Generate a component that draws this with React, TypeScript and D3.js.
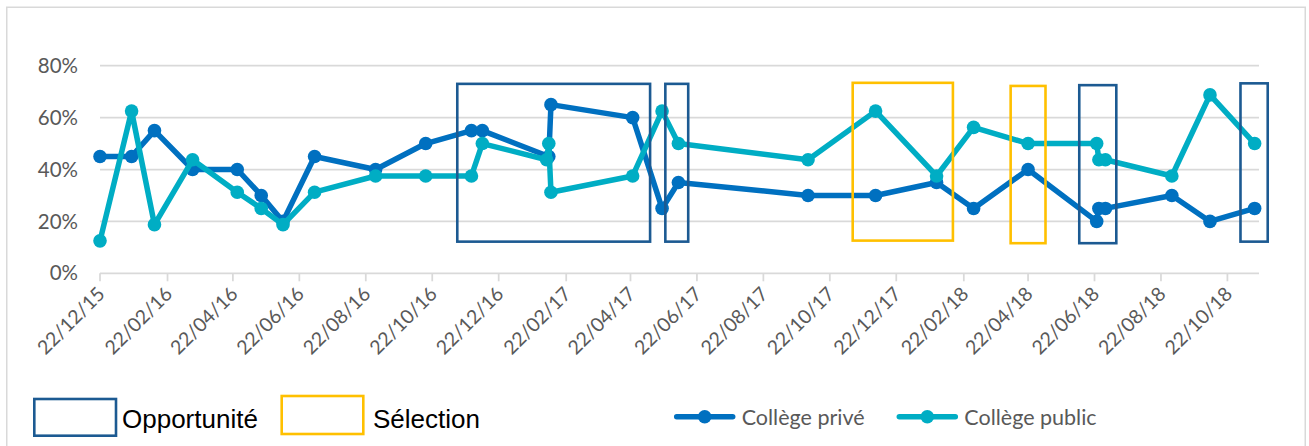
import React from "react";
import * as d3 from "d3";

// Survey dates and shares for each college type
const priveDates = [
  "2015-12-22", "2016-01-20", "2016-02-10", "2016-03-16", "2016-04-26", "2016-05-18",
  "2016-06-07", "2016-07-06", "2016-08-31", "2016-10-16", "2016-11-27", "2016-12-07",
  "2017-02-06", "2017-02-08", "2017-04-24", "2017-05-21", "2017-06-05", "2017-10-02",
  "2017-12-03", "2018-01-28", "2018-03-03", "2018-04-22", "2018-06-24", "2018-06-26",
  "2018-07-02", "2018-09-01", "2018-10-06", "2018-11-16",
];
const priveValues = [
  0.45, 0.45, 0.55, 0.4, 0.4, 0.3,
  0.2, 0.45, 0.4, 0.5, 0.55, 0.55,
  0.45, 0.65, 0.6, 0.25, 0.35, 0.3,
  0.3, 0.35, 0.25, 0.4, 0.2, 0.25,
  0.25, 0.3, 0.2, 0.25,
];

const publicDates = [
  "2015-12-22", "2016-01-20", "2016-02-10", "2016-03-16", "2016-04-26", "2016-05-18",
  "2016-06-07", "2016-07-06", "2016-08-31", "2016-10-16", "2016-11-27", "2016-12-07",
  "2017-02-04", "2017-02-06", "2017-02-08", "2017-04-24", "2017-05-21", "2017-06-05",
  "2017-10-02", "2017-12-03", "2018-01-28", "2018-03-03", "2018-04-22", "2018-06-24",
  "2018-06-26", "2018-07-02", "2018-09-01", "2018-10-06", "2018-11-16",
];
const publicValues = [
  0.125, 0.625, 0.1875, 0.4375, 0.3125, 0.25,
  0.1875, 0.3125, 0.375, 0.375, 0.375, 0.5,
  0.4375, 0.5, 0.3125, 0.375, 0.625, 0.5,
  0.4375, 0.625, 0.375, 0.5625, 0.5, 0.5,
  0.4375, 0.4375, 0.375, 0.6875, 0.5,
];

const tickLabels = [
  "22/12/15", "22/02/16", "22/04/16", "22/06/16", "22/08/16", "22/10/16",
  "22/12/16", "22/02/17", "22/04/17", "22/06/17", "22/08/17", "22/10/17",
  "22/12/17", "22/02/18", "22/04/18", "22/06/18", "22/08/18", "22/10/18",
];
const yTicks = [0, 0.2, 0.4, 0.6, 0.8];
const axisDomain = ["2015-12-22", "2018-11-20"];

// Highlight frames: date span and value span
const opportuniteFrames = [
  { start: "2016-11-14", end: "2017-05-10", top: 0.73, bottom: 0.122 },
  { start: "2017-05-24", end: "2017-06-14", top: 0.73, bottom: 0.122 },
  { start: "2018-06-08", end: "2018-07-12", top: 0.725, bottom: 0.116 },
  { start: "2018-11-03", end: "2018-11-28", top: 0.732, bottom: 0.122 },
];
const selectionFrames = [
  { start: "2017-11-12", end: "2018-02-12", top: 0.734, bottom: 0.126 },
  { start: "2018-04-06", end: "2018-05-08", top: 0.722, bottom: 0.116 },
];

const W = 1309;
const H = 446;
const PRIVE = "#0070c0";
const PUBLIC = "#00adc4";
const NAVY = "#1c5a92";
const GOLD = "#ffc000";
const GRID = "#d9d9d9";
const TEXT = "#595959";
const AXIS_FONT = "Lato, 'Open Sans', sans-serif";

const parseISO = d3.timeParse("%Y-%m-%d");
const parseTick = d3.timeParse("%d/%m/%y");

export default function App() {
  const x = d3
    .scaleTime()
    .domain(axisDomain.map((d) => parseISO(d) as Date))
    .range([100, 1259]);
  const y = d3.scaleLinear().domain([0, 0.8]).range([273.3, 65.7]);

  const prive = priveDates.map((d, i) => ({ date: parseISO(d) as Date, value: priveValues[i] }));
  const pub = publicDates.map((d, i) => ({ date: parseISO(d) as Date, value: publicValues[i] }));

  const line = d3
    .line<{ date: Date; value: number }>()
    .x((d) => x(d.date))
    .y((d) => y(d.value));

  const [x0, x1] = x.range();
  const baseY = y(0);

  const frame = (f: { start: string; end: string; top: number; bottom: number }, color: string, key: string) => {
    const xa = x(parseISO(f.start) as Date);
    const xb = x(parseISO(f.end) as Date);
    const ya = y(f.top);
    const yb = y(f.bottom);
    return (
      <rect key={key} x={xa} y={ya} width={xb - xa} height={yb - ya} fill="none" stroke={color} strokeWidth={2.6} />
    );
  };

  const series = (data: { date: Date; value: number }[], color: string) => (
    <g>
      <path d={line(data) || ""} fill="none" stroke={color} strokeWidth={5.5} strokeLinejoin="round" strokeLinecap="round" />
      {data.map((d, i) => (
        <circle key={i} cx={x(d.date)} cy={y(d.value)} r={6.8} fill={color} />
      ))}
    </g>
  );

  return (
    <svg
      width={W}
      height={H}
      style={{ position: "absolute", left: 0, top: 0, background: "#fff" }}
    >
      <rect x={0} y={0} width={W} height={H} fill="#fff" />
      {/* chart border */}
      <rect x={6.75} y={7.25} width={1298.5} height={460} fill="none" stroke={GRID} strokeWidth={1.5} />

      {/* gridlines */}
      {yTicks.map((t) => (
        <line key={t} x1={x0} x2={x1} y1={y(t)} y2={y(t)} stroke={GRID} strokeWidth={1.75} />
      ))}
      {/* x tick marks */}
      {tickLabels.map((t) => {
        const tx = x(parseTick(t) as Date);
        return <line key={t} x1={tx} x2={tx} y1={baseY} y2={baseY + 8} stroke={GRID} strokeWidth={1.75} />;
      })}

      {/* y labels */}
      {yTicks.map((t) => (
        <text
          key={t}
          x={78}
          y={y(t)}
          dy="0.35em"
          textAnchor="end"
          fontFamily={AXIS_FONT}
          fontSize={20.5}
          fill={TEXT}
        >
          {d3.format(".0%")(t)}
        </text>
      ))}

      {/* x labels */}
      {tickLabels.map((t) => {
        const tx = x(parseTick(t) as Date) + 6;
        const ty = baseY + 22;
        return (
          <text
            key={t}
            x={tx}
            y={ty}
            textAnchor="end"
            transform={`rotate(-45 ${tx} ${ty})`}
            fontFamily={AXIS_FONT}
            fontSize={19.5}
            fill={TEXT}
          >
            {t}
          </text>
        );
      })}

      {series(prive, PRIVE)}
      {series(pub, PUBLIC)}

      {opportuniteFrames.map((f, i) => frame(f, NAVY, "o" + i))}
      {selectionFrames.map((f, i) => frame(f, GOLD, "s" + i))}

      {/* frame legend */}
      <rect x={34.3} y={399} width={81.7} height={36.7} fill="none" stroke={NAVY} strokeWidth={2.6} />
      <text x={122} y={428} fontFamily="'Liberation Sans', Arial, sans-serif" fontSize={26} fill="#000">
        Opportunité
      </text>
      <rect x={281.7} y={396} width={81.6} height={38} fill="none" stroke={GOLD} strokeWidth={2.6} />
      <text x={373} y={428} fontFamily="'Liberation Sans', Arial, sans-serif" fontSize={26} fill="#000">
        Sélection
      </text>

      {/* series legend */}
      {[
        { label: "Collège privé", color: PRIVE, lx: 676.7 },
        { label: "Collège public", color: PUBLIC, lx: 899.3 },
      ].map((s) => (
        <g key={s.label}>
          <line x1={s.lx} x2={s.lx + 56} y1={416.7} y2={416.7} stroke={s.color} strokeWidth={5.5} strokeLinecap="round" />
          <circle cx={s.lx + 28} cy={416.7} r={6.8} fill={s.color} />
          <text x={s.lx + 65} y={424.5} fontFamily={AXIS_FONT} fontSize={21.5} fill={TEXT}>
            {s.label}
          </text>
        </g>
      ))}
    </svg>
  );
}
